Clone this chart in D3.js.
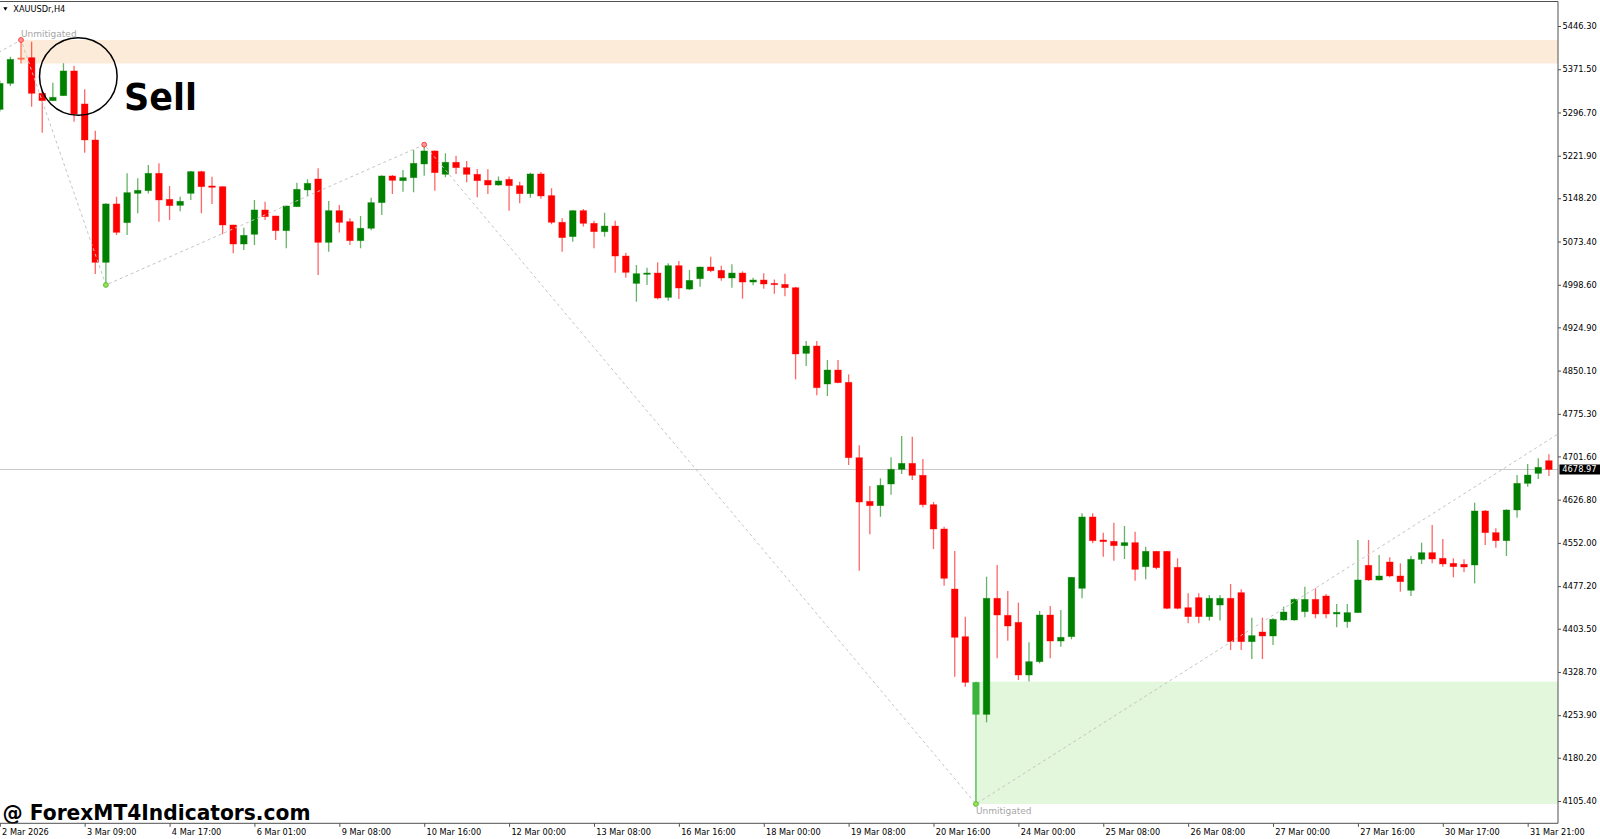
<!DOCTYPE html>
<html><head><meta charset="utf-8">
<script src="https://cdn.jsdelivr.net/npm/d3@7"></script>
<style>
html,body{margin:0;padding:0;background:#fff;overflow:hidden}
svg{display:block}
text{font-family:"DejaVu Sans",sans-serif}
</style></head><body>
<svg id="c" width="1600" height="839"></svg>
<script>
// ---------- DATA (XAUUSDr H4) ----------
const open=[5302,5347.1,5391,5391.5,5329.8,5317.1,5325.8,5368.5,5311.4,5249.1,
5037.4,5138.4,5106.1,5156.8,5161.4,5191.4,5146.4,5136,5156.8,5194.3,
5169.5,5168.3,5102,5069.1,5085.9,5128,5117.6,5092.2,5133.7,5162.6,
5181.6,5072,5126.8,5107.8,5074.9,5096.3,5140.7,5186.8,5178.7,5183.9,
5207.6,5230.1,5189.7,5210.5,5201.2,5189.7,5179.3,5171.2,5181,5170.1,
5156.2,5190.3,5152.8,5106.7,5081.9,5126.8,5104.9,5090.4,5100.2,5048.3,
5001,5017.2,5018.9,4976.8,5031.6,4991.2,5009.1,5029.3,5023.5,5010.3,
5018.9,5003.3,5006.8,5001,4999.3,4993.5,4879.9,4892.6,4826.9,4851.1,
4829.8,4699.4,4623.9,4616.4,4653.9,4679.3,4689.6,4668.9,4618.1,4576,
4472.2,4389.7,4310.7,4255.3,4456.1,4426.7,4414.5,4323.4,4346.5,4427.2,
4382.2,4389.8,4473.4,4596.8,4557,4554.7,4547.2,4552.4,4510.8,4537.4,
4537.4,4509.7,4439.9,4457.2,4424.4,4444.5,4456.1,4465.9,4381.1,4397.8,
4390.9,4418.6,4418.6,4433,4454.3,4460.1,4429,4415.7,4431.3,4513.2,
4487.8,4518.9,4494.7,4469.9,4523.5,4535.1,4525.3,4516.6,4514.9,4513.7,
4607.2,4569.7,4555.8,4608.9,4655,4672.3,4694.2];
const high=[5352,5393.3,5422.1,5419.2,5335.6,5348.3,5381.7,5377.7,5336.7,5265.2,
5139.5,5151,5191.4,5182.8,5205.8,5208.7,5169.5,5151,5195.5,5196,
5185.6,5169,5102.5,5097.4,5145.3,5142.4,5118,5135.5,5175.3,5181,
5200.1,5143.5,5136.6,5113.6,5117.6,5149.3,5188,5188.5,5197.2,5231.8,
5241,5231,5226,5222,5212.8,5198.9,5198.3,5185.7,5185.7,5177,
5192.6,5193.7,5165.5,5113.6,5127.5,5129.7,5109.5,5123.3,5109.5,5054.1,
5032.7,5028.1,5037.4,5035.6,5039.7,5024.1,5029.8,5047.2,5031.6,5033.9,
5021.8,5010.8,5018.3,5007.9,5017.8,4995,4901.3,4901.3,4868.4,4868.4,
4843.6,4720.8,4650.4,4663.7,4700,4736.9,4735.8,4697.1,4622.7,4580,
4537.9,4424.3,4311.9,4493.5,4513.7,4468.8,4448.6,4379.9,4434.2,4442.8,
4435.9,4493,4603.1,4603.1,4569.7,4587,4581.2,4571.4,4545.5,4537.9,
4537.9,4525.3,4464.7,4464.7,4461.8,4461.8,4480.9,4471.6,4422.6,4422.6,
4421.5,4441.7,4456,4476.3,4473.4,4463.6,4446.3,4446.3,4557,4557,
4531,4527,4516.6,4529.3,4552.4,4582.9,4558.7,4525.3,4523.5,4621.6,
4608.9,4577.2,4610,4669.4,4688.5,4698.3,4705.2];
const low=[5298,5342.5,5381.5,5306.8,5261.8,5316.5,5325,5280.8,5227.2,5017.2,
4998.2,5084.7,5084.7,5122.2,5156.3,5107.8,5110.7,5125.7,5145.3,5122.2,
5138.3,5085.9,5053,5058.8,5067.4,5110.7,5076.1,5061.7,5133,5152.2,
5015.5,5055.9,5088.8,5067.4,5061.7,5093,5119.3,5155.6,5159.7,5158.6,
5187.4,5161.4,5184.5,5190.3,5175.9,5149.9,5155.7,5170.1,5126.8,5139.5,
5149.3,5147.6,5103.2,5055.9,5073.2,5099.2,5061.7,5081.8,5019.5,5010.8,
4969.3,4998.1,4973.3,4971,4973.9,4989.5,4995.3,5020.1,5005.6,4993.5,
4974.5,4997.6,4991.8,4983.1,4978.5,4834.9,4858,4807.3,4806.1,4828,
4686.7,4503.9,4566.8,4597.3,4635.4,4671.2,4660.8,4613.5,4541.4,4478,
4320.5,4303.2,4100.2,4241.5,4352.2,4382.8,4314.8,4312,4343.6,4352.3,
4372.4,4385.1,4456.1,4551.2,4528.2,4521.2,4524.1,4486.6,4488.9,4506.2,
4437,4437,4412.8,4412.8,4417.5,4417.5,4366.7,4366.7,4351.1,4351.1,
4375.3,4417.4,4417.4,4423.2,4421.5,4421.5,4405.9,4405.3,4431,4486.1,
4487,4492.4,4467.6,4460.1,4515.5,4516.6,4510.9,4492.4,4501,4482,
4548.3,4543.7,4529.3,4595.6,4649.3,4662.5,4667.7];
const close=[5347,5388.6,5389.5,5329.8,5317.1,5322.9,5368.5,5294.1,5249.1,5037.4,
5138.4,5089.3,5158,5162,5191.4,5145.3,5135.5,5143,5194.3,5168.3,
5167.2,5102,5069.1,5084.1,5128,5116.4,5092.2,5134.9,5163.7,5174.1,
5072,5126.8,5106.6,5074.9,5096.3,5140.7,5186.8,5179.3,5183.9,5208.7,
5230.1,5192.6,5210.5,5201.2,5189.7,5178.7,5171.2,5178.2,5170.1,5156.2,
5190.3,5152.2,5106.7,5080.1,5126.8,5104.9,5090.5,5100.2,5048.3,5020.1,
5017.8,5018.9,4975.7,5031.6,4993,5006.2,5029.3,5022.9,5010.3,5018.9,
5003.3,5006.8,4999.9,4999.3,4993.5,4878.8,4892.6,4820.5,4851.1,4829.2,
4699.4,4622.7,4616.4,4651.6,4679.3,4689.6,4668.9,4618.1,4576,4490.7,
4388.6,4310.7,4255.3,4456.1,4427.2,4408.2,4323.4,4346.5,4427.2,4382.2,
4388.6,4492.4,4596.8,4555.8,4554.1,4547.2,4552.4,4506.2,4537.4,4509.1,
4438.8,4438.8,4424.4,4424.4,4456.1,4456.1,4381.1,4381.1,4391.5,4390.9,
4419.7,4432.4,4454.3,4454.3,4429,4429,4431.9,4431.3,4487.8,4487.8,
4494.7,4494.7,4484.9,4523.5,4535.1,4524.1,4515.5,4510.9,4510.3,4607.2,
4569.7,4555.8,4608.9,4655,4669.4,4682.7,4678.97];

const xTickIndex=[0,8,16,24,32,40,48,56,64,72,80,88,96,104,112,120,128,136,144];
const xTickLabels=["2 Mar 2026","3 Mar 09:00","4 Mar 17:00","6 Mar 01:00","9 Mar 08:00",
"10 Mar 16:00","12 Mar 00:00","13 Mar 08:00","16 Mar 16:00","18 Mar 00:00","19 Mar 08:00",
"20 Mar 16:00","24 Mar 00:00","25 Mar 08:00","26 Mar 08:00","27 Mar 00:00","27 Mar 16:00",
"30 Mar 17:00","31 Mar 21:00"];
const yTicks=[5446.30,5371.50,5296.70,5221.90,5148.20,5073.40,4998.60,4924.90,4850.10,
4775.30,4701.60,4626.80,4552.00,4477.20,4403.50,4328.70,4253.90,4180.20,4105.40];
const lastPrice=4678.97;

const zigzagIndex=[-10,2,10,40,92,147];
const zigzagPrice=[5300,5422.1,4998.2,5241.0,4100.2,4742];
const zigzagKind=["low","high","low","high","low","high"];

const orderBlockIndex=[2,92];
const orderBlockType=["bear","bull"];
const orderBlockState=["Unmitigated","Unmitigated"];

const symbolTitle="XAUUSDr,H4";
const signalText="Sell";
const signalAt=[7.4,5358.9];
const watermark="@ ForexMT4Indicators.com";

// ---------- LAYOUT ----------
const plotRight=1558, plotTop=1.5, plotBottom=823.3;
const n=open.length;
const x=d3.scaleLinear().domain([0,n-1]).range([-0.2,1548.9]);
const y=d3.scaleLinear().domain([4105.4,5446.3]).range([801,26]);

const svg=d3.select("#c");
svg.append("rect").attr("width",1600).attr("height",839).attr("fill","#fff");
svg.append("defs").append("clipPath").attr("id","plot")
  .append("rect").attr("x",0).attr("y",plotTop).attr("width",plotRight).attr("height",plotBottom-plotTop);
const g=svg.append("g").attr("clip-path","url(#plot)");

// zones
const zoneFill={bear:"#fdebd9",bull:"#e2f7dc"};
orderBlockIndex.forEach((k,j)=>{
  g.append("rect").attr("x",x(k)).attr("y",y(high[k]))
   .attr("width",plotRight-x(k)).attr("height",y(low[k])-y(high[k]))
   .attr("fill",zoneFill[orderBlockType[j]]);
});

// bid line
g.append("line").attr("x1",0).attr("x2",plotRight)
 .attr("y1",y(lastPrice)).attr("y2",y(lastPrice))
 .attr("stroke","#c8c8c8").attr("stroke-width",1);

// candles
const obColor={2:"#ff6a4a",92:"#3cb43c"};
const data=d3.range(n).map(i=>({i,o:open[i],h:high[i],l:low[i],c:close[i]}));
const colorOf=d=>obColor[d.i]||(d.c>=d.o?"#008000":"#ff0000");
const cg=g.append("g");
cg.selectAll("line.w").data(data).join("line").attr("class","w")
  .attr("x1",d=>x(d.i)).attr("x2",d=>x(d.i))
  .attr("y1",d=>y(d.h)).attr("y2",d=>y(d.l))
  .attr("stroke",colorOf).attr("stroke-width",1.3)
  .attr("stroke-opacity",d=>obColor[d.i]?0.95:0.6);
const bw=6.6;
cg.selectAll("rect.b").data(data).join("rect").attr("class","b")
  .attr("x",d=>x(d.i)-bw/2).attr("width",bw)
  .attr("y",d=>Math.min(y(d.o),y(d.c)))
  .attr("height",d=>Math.max(1.3,Math.abs(y(d.o)-y(d.c))))
  .attr("fill",colorOf).attr("stroke",colorOf).attr("stroke-opacity",0.45).attr("stroke-width",0.8);

// zigzag
const zz=zigzagIndex.map((k,j)=>[x(k),y(zigzagPrice[j])]);
g.append("path").attr("d",d3.line()(zz)).attr("fill","none")
 .attr("stroke","#c4c4c4").attr("stroke-width",1).attr("stroke-dasharray","3,3");
zigzagIndex.forEach((k,j)=>{
  if(k<0||k>=n) return;
  const hi=zigzagKind[j]==="high";
  g.append("circle").attr("cx",x(k)).attr("cy",y(zigzagPrice[j])).attr("r",2.4)
   .attr("fill",hi?"#ff9a9a":"#9ee05e").attr("stroke",hi?"#ff3b3b":"#5cbc2a").attr("stroke-width",1);
});

// zone labels
orderBlockIndex.forEach((k,j)=>{
  const bear=orderBlockType[j]==="bear";
  g.append("text").attr("x",x(k)).attr("y",bear?y(high[k])-3:y(low[k])+9.5)
   .attr("font-size","9px").attr("fill","#a6a6a6").text(orderBlockState[j]);
});

// annotation circle + Sell
svg.append("circle").attr("cx",x(signalAt[0])).attr("cy",y(signalAt[1])).attr("r",38.8)
  .attr("fill","none").attr("stroke","#000").attr("stroke-width",1.5);
svg.append("text").attr("x",x(11.7)).attr("y",y(5301))
  .attr("font-family","'Liberation Sans',Arial,sans-serif").attr("font-weight","bold")
  .attr("font-size","38px").attr("fill","#000")
  .attr("textLength",73).attr("lengthAdjust","spacingAndGlyphs").text(signalText);

// watermark
svg.append("text").attr("x",2.5).attr("y",820.3)
  .attr("font-family","'Liberation Sans',Arial,sans-serif").attr("font-weight","bold")
  .attr("font-size","21px").attr("fill","#000")
  .attr("textLength",308).attr("lengthAdjust","spacingAndGlyphs").text(watermark);

// frame
const fr=svg.append("g").attr("stroke","#505050").attr("stroke-width",1).attr("fill","none");
fr.append("path").attr("d",`M0,${plotTop}H${plotRight}V${plotBottom}H0`);

// y axis
const ya=svg.append("g").attr("transform",`translate(${plotRight},0)`)
  .call(d3.axisRight(y).tickValues(yTicks).tickSize(3).tickPadding(1.5).tickFormat(d3.format(".2f")));
ya.select(".domain").remove();
ya.selectAll("line").attr("stroke","#505050");
ya.selectAll("text").attr("font-family","'DejaVu Sans',sans-serif").attr("font-size","8.3px").attr("fill","#000");

// x axis
const xa=svg.append("g").attr("transform",`translate(0,${plotBottom})`)
  .call(d3.axisBottom(x).tickValues(xTickIndex).tickSize(3.5).tickPadding(2.5).tickFormat((d,i)=>xTickLabels[i]));
xa.select(".domain").remove();
xa.selectAll("line").attr("stroke","#505050");
xa.selectAll("text").attr("text-anchor","start").attr("x",1.8)
  .attr("font-family","'DejaVu Sans',sans-serif").attr("font-size","8.2px").attr("fill","#000");

// price label
const py=y(lastPrice);
svg.append("rect").attr("x",1559.5).attr("y",py-5).attr("width",40.5).attr("height",10).attr("fill","#000");
svg.append("text").attr("x",1562.3).attr("y",py+3).attr("font-size","8.3px").attr("fill","#fff").text(d3.format(".2f")(lastPrice));

// title
svg.append("path").attr("d","M3.3,7.3L7.5,7.3L5.4,10.7Z").attr("fill","#000");
svg.append("text").attr("x",13.3).attr("y",12.3).attr("font-size","8.2px").attr("fill","#000").text(symbolTitle);
</script>
</body></html>
